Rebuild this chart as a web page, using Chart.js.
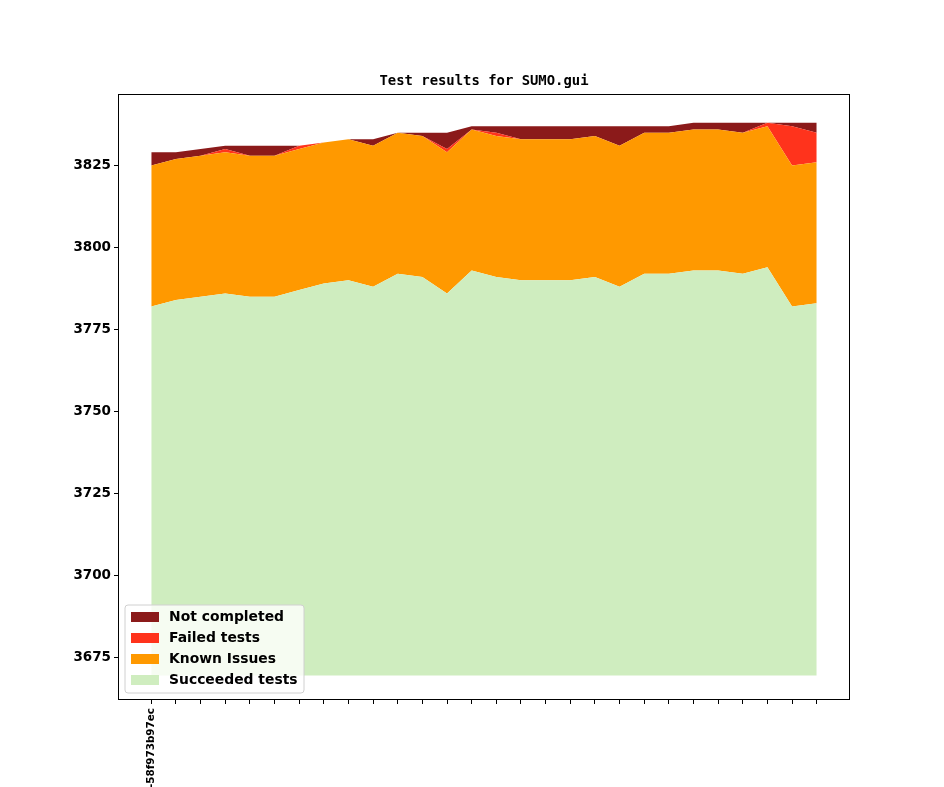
<!DOCTYPE html>
<html>
<head>
<meta charset="utf-8">
<script src="https://cdn.jsdelivr.net/npm/chart.js@4.4.1/dist/chart.umd.min.js"></script>
<style>html,body{margin:0;padding:0;background:#fff}</style>
</head>
<body>
<canvas id="testChart" width="944" height="787"></canvas>
<script>
// one entry per revision, only the first one carries a visible label
const revisions = ['-58f973b97ec','','','','','','','','','','','','','','','','','','','','','','','','','','',''];
const succeeded    = [3782,3784,3785,3786,3785,3785,3787,3789,3790,3788,3792,3791,3786,3793,3791,3790,3790,3790,3791,3788,3792,3792,3793,3793,3792,3794,3782,3783];
const knownIssues  = [43,43,43,43,43,43,43,43,43,43,43,43,43,43,43,43,43,43,43,43,43,43,43,43,43,43,43,43];
const failed       = [0,0,0,1,0,0,1,0,0,0,0,0,1,0,1,0,0,0,0,0,0,0,0,0,0,1,12,9];
const notCompleted = [4,2,2,1,3,3,0,0,0,2,0,1,5,1,2,4,4,4,3,6,2,2,2,2,3,0,1,3];
const yTicks = [3675,3700,3725,3750,3775,3800,3825];
const fillBase = 3669.5;
const chartTitle = 'Test results for SUMO.gui';

Chart.defaults.font.family = 'DejaVu Sans';
Chart.defaults.color = '#000';

// stack the layers by hand, the bottom of the stack is not zero
function addUp(a, b){ return a.map((v,i) => v + b[i]); }
const lvl1 = succeeded;
const lvl2 = addUp(lvl1, knownIssues);
const lvl3 = addUp(lvl2, failed);
const lvl4 = addUp(lvl3, notCompleted);
const pts = arr => arr.map((v,i) => ({x:i, y:v}));

function layer(label, arr, color, fill){
    return {
        label: label,
        data: pts(arr),
        backgroundColor: color,
        borderColor: 'rgba(0,0,0,0)',
        borderWidth: 0,
        pointRadius: 0,
        tension: 0,
        fill: fill
    };
}

const insideLegend = {
    id: 'insideLegend',
    afterDraw(chart){
        const ctx = chart.ctx, a = chart.chartArea;
        const items = chart.data.datasets.slice().reverse();
        const x = a.left + 7, w = 179, h = 88, y = a.bottom - 7 - h;
        ctx.save();
        ctx.beginPath();
        ctx.roundRect(x, y, w, h, 3);
        ctx.fillStyle = 'rgba(255,255,255,0.8)';
        ctx.fill();
        ctx.strokeStyle = '#d0d0d0';
        ctx.lineWidth = 1;
        ctx.stroke();
        ctx.font = 'bold 13.9px "DejaVu Sans"';
        ctx.textBaseline = 'middle';
        items.forEach((d, i) => {
            const cy = y + 12 + i * 21;
            ctx.fillStyle = d.backgroundColor;
            ctx.fillRect(x + 6, cy - 5, 28, 10);
            ctx.fillStyle = '#000';
            ctx.fillText(d.label, x + 44, cy);
        });
        // axes frame
        ctx.strokeStyle = '#000';
        ctx.lineWidth = 1;
        ctx.strokeRect(Math.round(a.left) + 0.5, Math.round(a.top) + 0.5, Math.round(a.right - a.left) - 1, Math.round(a.bottom - a.top) - 1);
        // title centred over the plot area
        ctx.font = 'bold 13.9px "DejaVu Sans Mono"';
        ctx.textAlign = 'center';
        ctx.fillText(chartTitle, (a.left + a.right) / 2, 81);
        ctx.restore();
    }
};

const chart = new Chart(document.getElementById('testChart'), {
    type: 'line',
    data: {
        datasets: [
            layer('Succeeded tests', lvl1, '#cfedbf', {value: fillBase}),
            layer('Known Issues', lvl2, '#ff9900', '-1'),
            layer('Failed tests', lvl3, '#ff331c', '-1'),
            layer('Not completed', lvl4, '#8b1a1a', '-1')
        ]
    },
    plugins: [insideLegend],
    options: {
        responsive: false,
        animation: false,
        layout: { padding: { left: 0, right: 94, top: 94, bottom: 0 } },
        plugins: {
            legend: { display: false },
            tooltip: { enabled: false },
            title: { display: false }
        },
        scales: {
            x: {
                type: 'linear',
                min: -1.35,
                max: 28.35,
                afterBuildTicks: s => { s.ticks = revisions.map((_, i) => ({value: i})); },
                afterFit: s => { s.height = 87; },
                grid: { drawOnChartArea: false, drawTicks: true, tickLength: 4, color: '#000' },
                border: { display: false },
                ticks: {
                    autoSkip: false,
                    minRotation: 90,
                    maxRotation: 90,
                    padding: 4,
                    font: { size: 10.4, weight: 'bold' },
                    callback: v => revisions[v] || ''
                }
            },
            y: {
                min: 3662.0,
                max: 3846.8,
                afterBuildTicks: s => { s.ticks = yTicks.map(v => ({value: v})); },
                afterFit: s => { s.width = 118; },
                grid: { drawOnChartArea: false, drawTicks: true, tickLength: 4, color: '#000' },
                border: { display: false },
                ticks: {
                    padding: 3,
                    font: { size: 13.5, weight: 'bold' },
                    callback: v => String(v)
                }
            }
        }
    }
});
</script>
</body>
</html>
